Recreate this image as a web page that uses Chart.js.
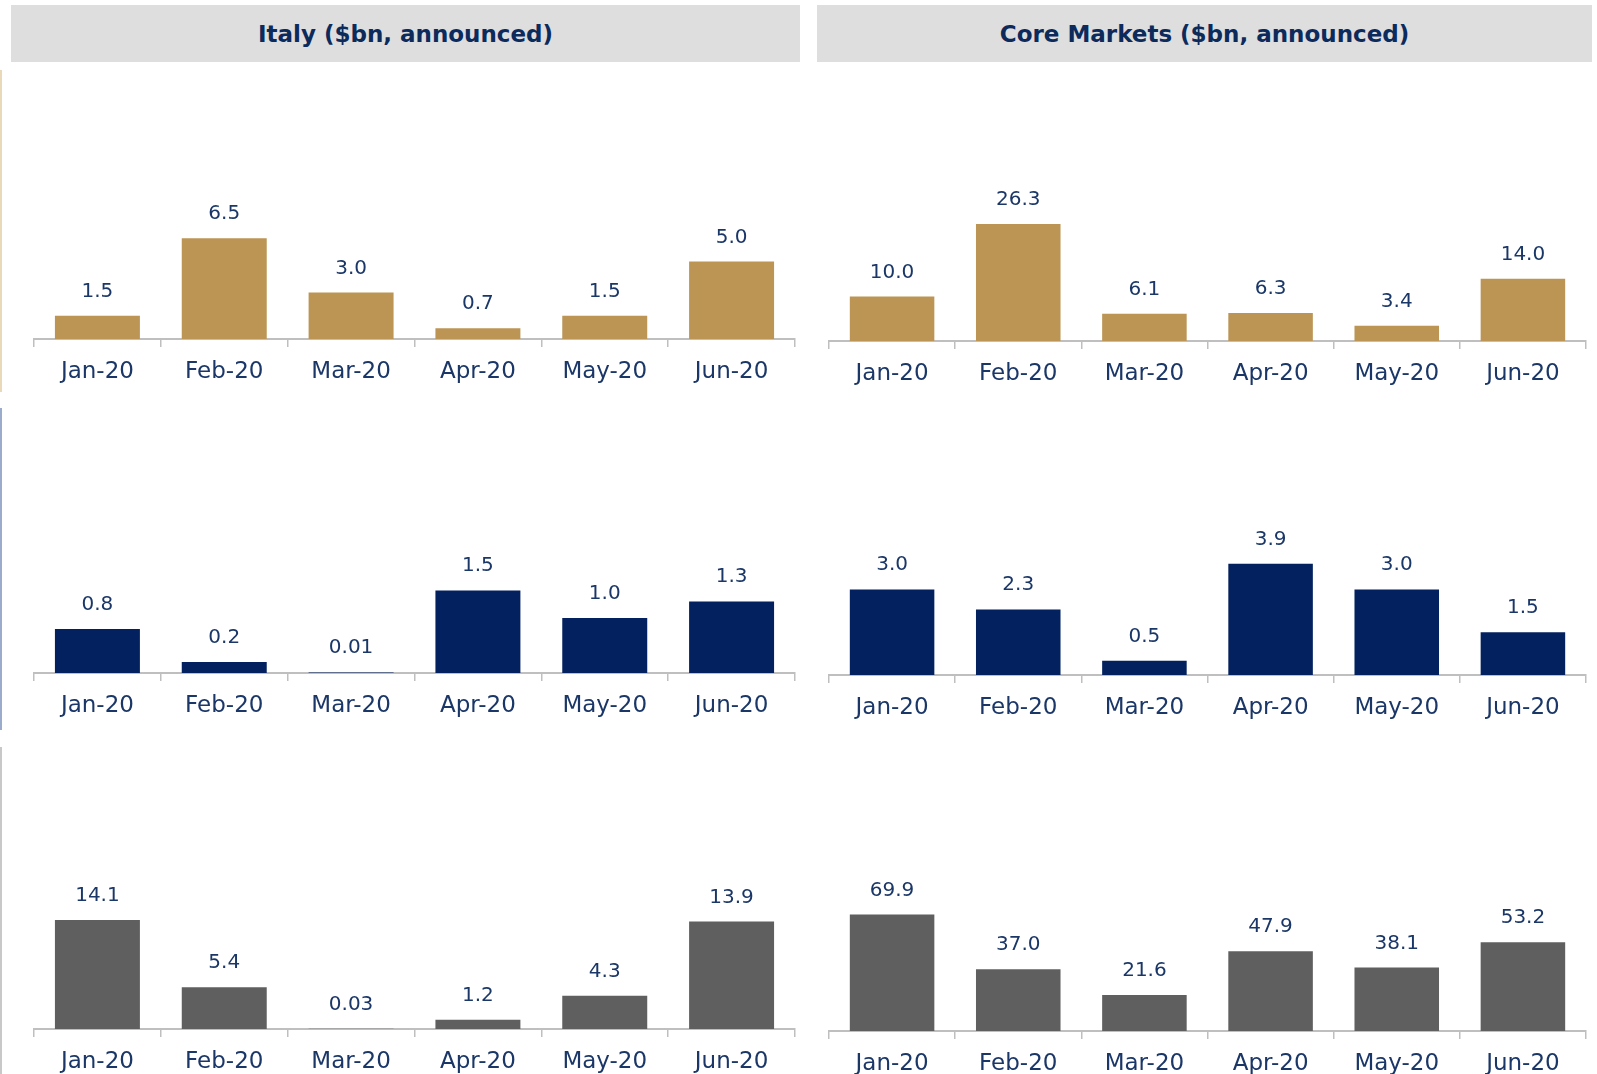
<!DOCTYPE html>
<html>
<head>
<meta charset="utf-8">
<script src="https://cdn.jsdelivr.net/npm/chart.js@4.4.0/dist/chart.umd.min.js"></script>
<style>
  body { margin: 0; background: #fff; width: 1597px; height: 1074px; position: relative; overflow: hidden; }
  .head { position: absolute; top: 5px; height: 57px; background: #dedede; color: #0c2a5b;
          font: bold 23px "DejaVu Sans", sans-serif; display: flex; align-items: center; justify-content: center; }
  .edge { position: absolute; left: 0; width: 2px; }
  canvas { position: absolute; }
</style>
</head>
<body>
<div class="head" style="left:11px;width:789px;">Italy ($bn, announced)</div>
<div class="head" style="left:817px;width:775px;">Core Markets ($bn, announced)</div>
<div class="edge" style="top:70px;height:322px;background:#ead9b9;"></div>
<div class="edge" style="top:408px;height:322px;background:#9aabcc;"></div>
<div class="edge" style="top:747px;height:327px;background:#c8c8c8;"></div>

<canvas id="c1" width="765" height="310" style="left:32px;top:89px;"></canvas>
<canvas id="c2" width="761" height="310" style="left:827px;top:91px;"></canvas>
<canvas id="c3" width="765" height="310" style="left:32px;top:423px;"></canvas>
<canvas id="c4" width="761" height="310" style="left:827px;top:425px;"></canvas>
<canvas id="c5" width="765" height="310" style="left:32px;top:779px;"></canvas>
<canvas id="c6" width="761" height="310" style="left:827px;top:781px;"></canvas>

<script>
// months on the x axis
const months = ['Jan-20', 'Feb-20', 'Mar-20', 'Apr-20', 'May-20', 'Jun-20'];

// $bn announced
const italyTop = [1.5, 6.5, 3.0, 0.7, 1.5, 5.0];
const coreTop = [10.0, 26.3, 6.1, 6.3, 3.4, 14.0];
const italyMid = [0.8, 0.2, 0.01, 1.5, 1.0, 1.3];
const coreMid = [3.0, 2.3, 0.5, 3.9, 3.0, 1.5];
const italyBottom = [14.1, 5.4, 0.03, 1.2, 4.3, 13.9];
const coreBottom = [69.9, 37.0, 21.6, 47.9, 38.1, 53.2];

const gold = '#bc9555';
const navy = '#03215e';
const grey = '#5f5f5f';
const textColor = '#1b3768';

function fmt(v) {
    return v < 0.1 ? v.toFixed(2) : v.toFixed(1);
}

// value labels above the bars
const valueLabels = {
    id: 'valueLabels',
    afterDatasetsDraw(chart) {
        let ctx = chart.ctx;
        let meta = chart.getDatasetMeta(0);
        let values = chart.data.datasets[0].data;
        ctx.save();
        ctx.font = '20px "DejaVu Sans"';
        ctx.fillStyle = textColor;
        ctx.textAlign = 'center';
        ctx.textBaseline = 'alphabetic';
        meta.data.forEach(function(bar, i) {
            ctx.fillText(fmt(values[i]), bar.x, bar.y - 19);
        });
        ctx.restore();
    }
};

function drawBarChart(id, data, color, yMax) {
    let ctx = document.getElementById(id).getContext('2d');
    return new Chart(ctx, {
        type: 'bar',
        data: {
            labels: months,
            datasets: [{
                data: data,
                backgroundColor: color,
                borderWidth: 0,
                categoryPercentage: 0.67,
                barPercentage: 1.0
            }]
        },
        options: {
            responsive: false,
            animation: false,
            layout: { padding: { left: 2, right: 2, top: 0, bottom: 0 } },
            plugins: { legend: { display: false }, tooltip: { enabled: false } },
            scales: {
                x: {
                    afterFit: function(scale) { scale.height = 60; },
                    border: { display: true, color: '#bfbfbf', width: 2 },
                    grid: { offset: true, drawOnChartArea: false, drawTicks: true, tickLength: 8, color: '#bfbfbf', lineWidth: 1.5 },
                    ticks: { color: textColor, font: { family: 'DejaVu Sans', size: 23 }, padding: 11, maxRotation: 0 }
                },
                y: { display: false, min: 0, max: yMax }
            }
        },
        plugins: [valueLabels]
    });
}

drawBarChart('c1', italyTop, gold, 16.13);
drawBarChart('c2', coreTop, gold, 56.18);
drawBarChart('c3', italyMid, navy, 4.545);
drawBarChart('c4', coreMid, navy, 8.77);
drawBarChart('c5', italyBottom, grey, 32.34);
drawBarChart('c6', coreBottom, grey, 150);
</script>
</body>
</html>
